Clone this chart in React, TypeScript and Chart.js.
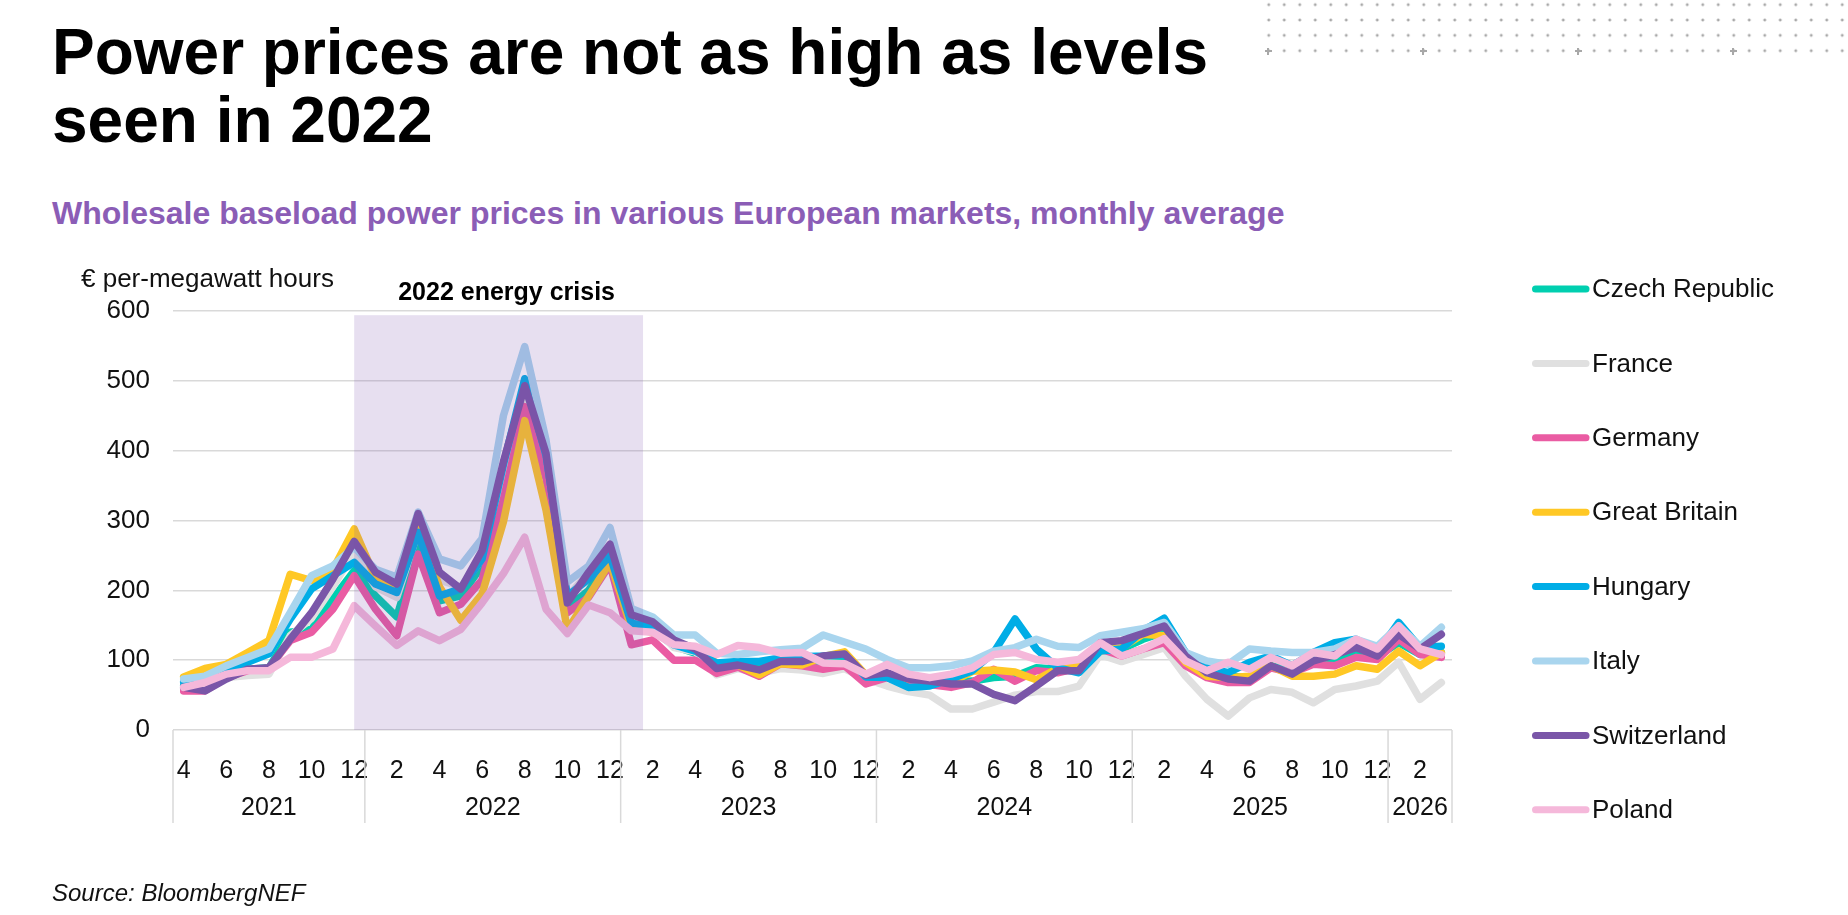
import { useEffect, useRef } from 'react';
import { Chart, registerables } from 'chart.js';

Chart.register(...registerables);

const FONT = '"Liberation Sans", Arial, Helvetica, sans-serif';

// monthly categories, Apr 2021 - Mar 2026
const monthLabels = [
  '4', '5', '6', '7', '8', '9', '10', '11', '12',
  '1', '2', '3', '4', '5', '6', '7', '8', '9', '10', '11', '12',
  '1', '2', '3', '4', '5', '6', '7', '8', '9', '10', '11', '12',
  '1', '2', '3', '4', '5', '6', '7', '8', '9', '10', '11', '12',
  '1', '2', '3', '4', '5', '6', '7', '8', '9', '10', '11', '12',
  '1', '2', '3',
];
const years = ['2021', '2022', '2023', '2024', '2025', '2026'];
const monthsPerYear = [9, 12, 12, 12, 12, 3];

// € per MWh
const czechRepublic = [
  63, 68, 77, 87, 89, 140, 144, 188, 228,
  192, 162, 264, 185, 192, 235, 355, 479, 379, 175, 200, 245,
  149, 145, 120, 110, 92, 96, 92, 100, 100, 98, 105, 74,
  76, 65, 66, 68, 70, 75, 77, 89, 87, 94, 116, 116,
  130, 140, 99, 82, 77, 75, 92, 85, 97, 99, 113, 106,
  125, 108, 111,
];
const france = [
  58, 60, 75, 78, 80, 135, 160, 205, 255,
  205, 190, 285, 215, 205, 245, 369, 479, 398, 190, 226, 255,
  155, 150, 118, 112, 79, 88, 81, 88, 86, 81, 88, 73,
  63, 55, 50, 30, 30, 40, 50, 55, 55, 63, 108, 98,
  108, 118, 77, 44, 20, 46, 58, 54, 39, 58, 63, 70,
  97, 44, 68,
];
const germany = [
  56, 56, 75, 85, 89, 128, 140, 173, 221,
  173, 135, 252, 168, 180, 215, 330, 463, 360, 168, 190, 237,
  122, 129, 100, 100, 81, 90, 77, 95, 92, 87, 92, 66,
  75, 65, 65, 61, 68, 87, 70, 85, 82, 89, 116, 106,
  116, 125, 92, 75, 68, 68, 89, 82, 94, 92, 104, 101,
  130, 108, 104,
];
const greatBritain = [
  76, 88, 94, 111, 128, 223, 214, 230, 288,
  218, 207, 290, 205, 157, 195, 298, 443, 315, 143, 192, 240,
  146, 140, 125, 118, 96, 93, 79, 95, 93, 105, 112, 79,
  77, 73, 73, 68, 84, 86, 83, 72, 88, 95, 113, 118,
  137, 135, 97, 77, 75, 77, 92, 77, 77, 80, 92, 87,
  113, 92, 111,
];
const hungary = [
  68, 75, 85, 97, 109, 159, 202, 221, 240,
  209, 197, 283, 192, 202, 245, 380, 503, 393, 192, 216, 250,
  153, 148, 122, 113, 96, 98, 98, 103, 105, 106, 108, 76,
  75, 61, 63, 73, 85, 111, 159, 116, 89, 82, 113, 116,
  142, 160, 111, 89, 82, 97, 106, 92, 111, 125, 130, 111,
  154, 118, 120,
];
const italy = [
  73, 77, 92, 104, 116, 168, 221, 235, 262,
  230, 219, 312, 245, 235, 274, 450, 549, 415, 212, 235, 290,
  174, 162, 136, 136, 110, 108, 112, 115, 117, 136, 126, 116,
  101, 89, 89, 92, 99, 113, 118, 130, 120, 118, 135, 140,
  145, 154, 111, 99, 94, 116, 113, 111, 111, 116, 130, 120,
  149, 120, 147,
];
const switzerland = [
  61, 56, 73, 87, 89, 130, 168, 216, 270,
  226, 209, 310, 226, 202, 257, 384, 493, 396, 182, 226, 266,
  165, 155, 129, 116, 88, 93, 86, 98, 98, 106, 109, 78,
  82, 73, 70, 66, 66, 51, 42, 63, 85, 85, 125, 128,
  138, 149, 106, 82, 73, 70, 92, 80, 99, 108, 118, 106,
  137, 116, 137,
];
const poland = [
  61, 68, 80, 85, 85, 104, 104, 116, 178,
  149, 121, 142, 128, 144, 182, 224, 276, 173, 138, 179, 168,
  142, 140, 122, 120, 108, 121, 118, 110, 111, 96, 95, 80,
  94, 80, 75, 80, 89, 108, 111, 101, 97, 101, 125, 106,
  116, 131, 99, 85, 97, 87, 104, 92, 111, 106, 130, 116,
  149, 116, 108,
];

const seriesNames = ['Czech Republic', 'France', 'Germany', 'Great Britain', 'Hungary', 'Italy', 'Switzerland', 'Poland'];
const seriesValues = [czechRepublic, france, germany, greatBritain, hungary, italy, switzerland, poland];
const seriesColors = ['#00cfb0', '#e0e0e0', '#ea5ca3', '#ffc825', '#00ade6', '#a9d5ee', '#7a56a8', '#f5b8da'];

// shaded crisis window, in category units
const crisisFrom = 8;
const crisisTo = 21.55;
const crisisTop = 594;
const crisisLabel = '2022 energy crisis';
const yAxisTitle = '€ per-megawatt hours';

const gridColor = '#d9d9d9';

const crisisBand = {
  id: 'crisisBand',
  afterDatasetsDraw(chart: any) {
    const { ctx, scales } = chart;
    const x = scales.x;
    const y = scales.y;
    const left = x.getPixelForValue(crisisFrom);
    const right = x.getPixelForValue(crisisTo);
    const top = y.getPixelForValue(crisisTop);
    const bottom = y.getPixelForValue(0);
    ctx.save();
    ctx.fillStyle = 'rgba(120, 80, 170, 0.18)';
    ctx.fillRect(left, top, right - left, bottom - top);
    ctx.fillStyle = '#000';
    ctx.font = `bold 25px ${FONT}`;
    ctx.textAlign = 'center';
    ctx.textBaseline = 'alphabetic';
    ctx.fillText(crisisLabel, (left + right) / 2 + 8, top - 15);
    ctx.restore();
  },
};

// two-level category axis (years under months) + y title + legend
const extras = {
  id: 'extras',
  afterDraw(chart: any) {
    const { ctx, chartArea, scales } = chart;
    const x = scales.x;
    ctx.save();

    ctx.strokeStyle = gridColor;
    ctx.lineWidth = 1.5;
    ctx.fillStyle = '#111';
    ctx.font = `25px ${FONT}`;
    ctx.textAlign = 'center';
    ctx.textBaseline = 'middle';
    let start = 0;
    const edges = [x.getPixelForValue(-0.5)];
    years.forEach((yr, k) => {
      const n = monthsPerYear[k];
      const a = x.getPixelForValue(start - 0.5);
      const b = x.getPixelForValue(start + n - 0.5);
      edges.push(b);
      ctx.fillText(yr, (a + b) / 2, chartArea.bottom + 78);
      start += n;
    });
    edges.forEach((px) => {
      ctx.beginPath();
      ctx.moveTo(px, chartArea.bottom);
      ctx.lineTo(px, chartArea.bottom + 93);
      ctx.stroke();
    });

    ctx.textAlign = 'left';
    ctx.textBaseline = 'alphabetic';
    ctx.font = `26px ${FONT}`;
    ctx.fillText(yAxisTitle, chartArea.left - 92, chartArea.top - 24);

    // legend
    const lx = chartArea.right + 80;
    const ly = chartArea.top - 22;
    const step = 74.4;
    ctx.lineCap = 'round';
    ctx.lineWidth = 7;
    ctx.textBaseline = 'middle';
    ctx.font = `26px ${FONT}`;
    chart.data.datasets.forEach((ds: any, i: number) => {
      const yy = ly + i * step;
      ctx.strokeStyle = ds.borderColor;
      ctx.beginPath();
      ctx.moveTo(lx + 3.5, yy);
      ctx.lineTo(lx + 54, yy);
      ctx.stroke();
      ctx.fillStyle = '#111';
      ctx.fillText(ds.label, lx + 60, yy + 1);
    });
    ctx.restore();
  },
};

function PriceChart() {
  const canvasRef = useRef<HTMLCanvasElement>(null);

  useEffect(() => {
    if (!canvasRef.current) return;

    const chart = new Chart(canvasRef.current, {
      type: 'line',
      data: {
        labels: monthLabels,
        datasets: seriesNames.map((name, i) => ({
          label: name,
          data: seriesValues[i],
          borderColor: seriesColors[i],
          backgroundColor: seriesColors[i],
          borderWidth: 7.5,
          borderJoinStyle: 'round' as const,
          borderCapStyle: 'round' as const,
          pointRadius: 0,
          tension: 0,
          // later series sit on top, like the original
          order: seriesNames.length - 1 - i,
        })),
      },
      options: {
        animation: false,
        responsive: true,
        maintainAspectRatio: false,
        layout: { padding: { left: 73, right: 396, top: 311, bottom: 85 } },
        plugins: {
          legend: { display: false },
          tooltip: { enabled: false },
        },
        scales: {
          x: {
            offset: true,
            grid: { display: false },
            border: { display: false },
            ticks: {
              autoSkip: false,
              maxRotation: 0,
              padding: 18,
              color: '#111',
              font: { family: FONT, size: 25 },
              callback: (_v: any, i: number) => (i % 2 === 0 ? monthLabels[i] : ''),
            },
            afterFit: (s: any) => {
              s.height = 100;
            },
          },
          y: {
            min: 0,
            max: 600,
            grid: { color: gridColor, lineWidth: 1.5, drawTicks: false },
            border: { display: false },
            ticks: {
              stepSize: 100,
              padding: 23,
              color: '#111',
              font: { family: FONT, size: 26 },
            },
            afterFit: (s: any) => {
              s.width = 100;
            },
          },
        },
      },
      plugins: [crisisBand, extras],
    });

    return () => chart.destroy();
  }, []);

  return (
    <div style={{ position: 'absolute', left: 0, top: 0, width: 1848, height: 915 }}>
      <canvas ref={canvasRef} />
    </div>
  );
}

function DotPattern() {
  const plus = [0, 10, 20, 30];
  return (
    <>
      <div
        style={{
          position: 'absolute',
          left: 1260.5,
          top: -2.7,
          width: 588,
          height: 61.4,
          backgroundImage: 'radial-gradient(circle, #a8a8a8 1.2px, rgba(255,255,255,0) 1.7px)',
          backgroundSize: '15.5px 15.35px',
        }}
      />
      {plus.map((c) => (
        <div key={c} style={{ position: 'absolute', left: 1268.3 + c * 15.5 - 3.5, top: 51 - 3.5, width: 7, height: 7 }}>
          <div style={{ position: 'absolute', left: 0, top: 2.5, width: 7, height: 2, background: '#a8a8a8' }} />
          <div style={{ position: 'absolute', left: 2.5, top: 0, width: 2, height: 7, background: '#a8a8a8' }} />
        </div>
      ))}
    </>
  );
}

export default function App() {
  return (
    <div
      style={{
        position: 'fixed',
        left: 0,
        top: 0,
        width: 1848,
        height: 915,
        background: '#fff',
        fontFamily: FONT,
        overflow: 'hidden',
      }}
    >
      <DotPattern />
      <div
        style={{
          position: 'absolute',
          left: 52,
          top: 17.5,
          fontSize: 64,
          lineHeight: '68.7px',
          fontWeight: 700,
          color: '#000',
          whiteSpace: 'nowrap',
        }}
      >
        Power prices are not as high as levels
        <br />
        seen in 2022
      </div>
      <div
        style={{
          position: 'absolute',
          left: 52,
          top: 195,
          fontSize: 32,
          lineHeight: '36px',
          fontWeight: 700,
          color: '#8b5db6',
          whiteSpace: 'nowrap',
        }}
      >
        Wholesale baseload power prices in various European markets, monthly average
      </div>
      <PriceChart />
      <div
        style={{
          position: 'absolute',
          left: 52,
          top: 878.5,
          fontSize: 24,
          lineHeight: '28px',
          fontStyle: 'italic',
          color: '#111',
          whiteSpace: 'nowrap',
        }}
      >
        Source: BloombergNEF
      </div>
    </div>
  );
}
